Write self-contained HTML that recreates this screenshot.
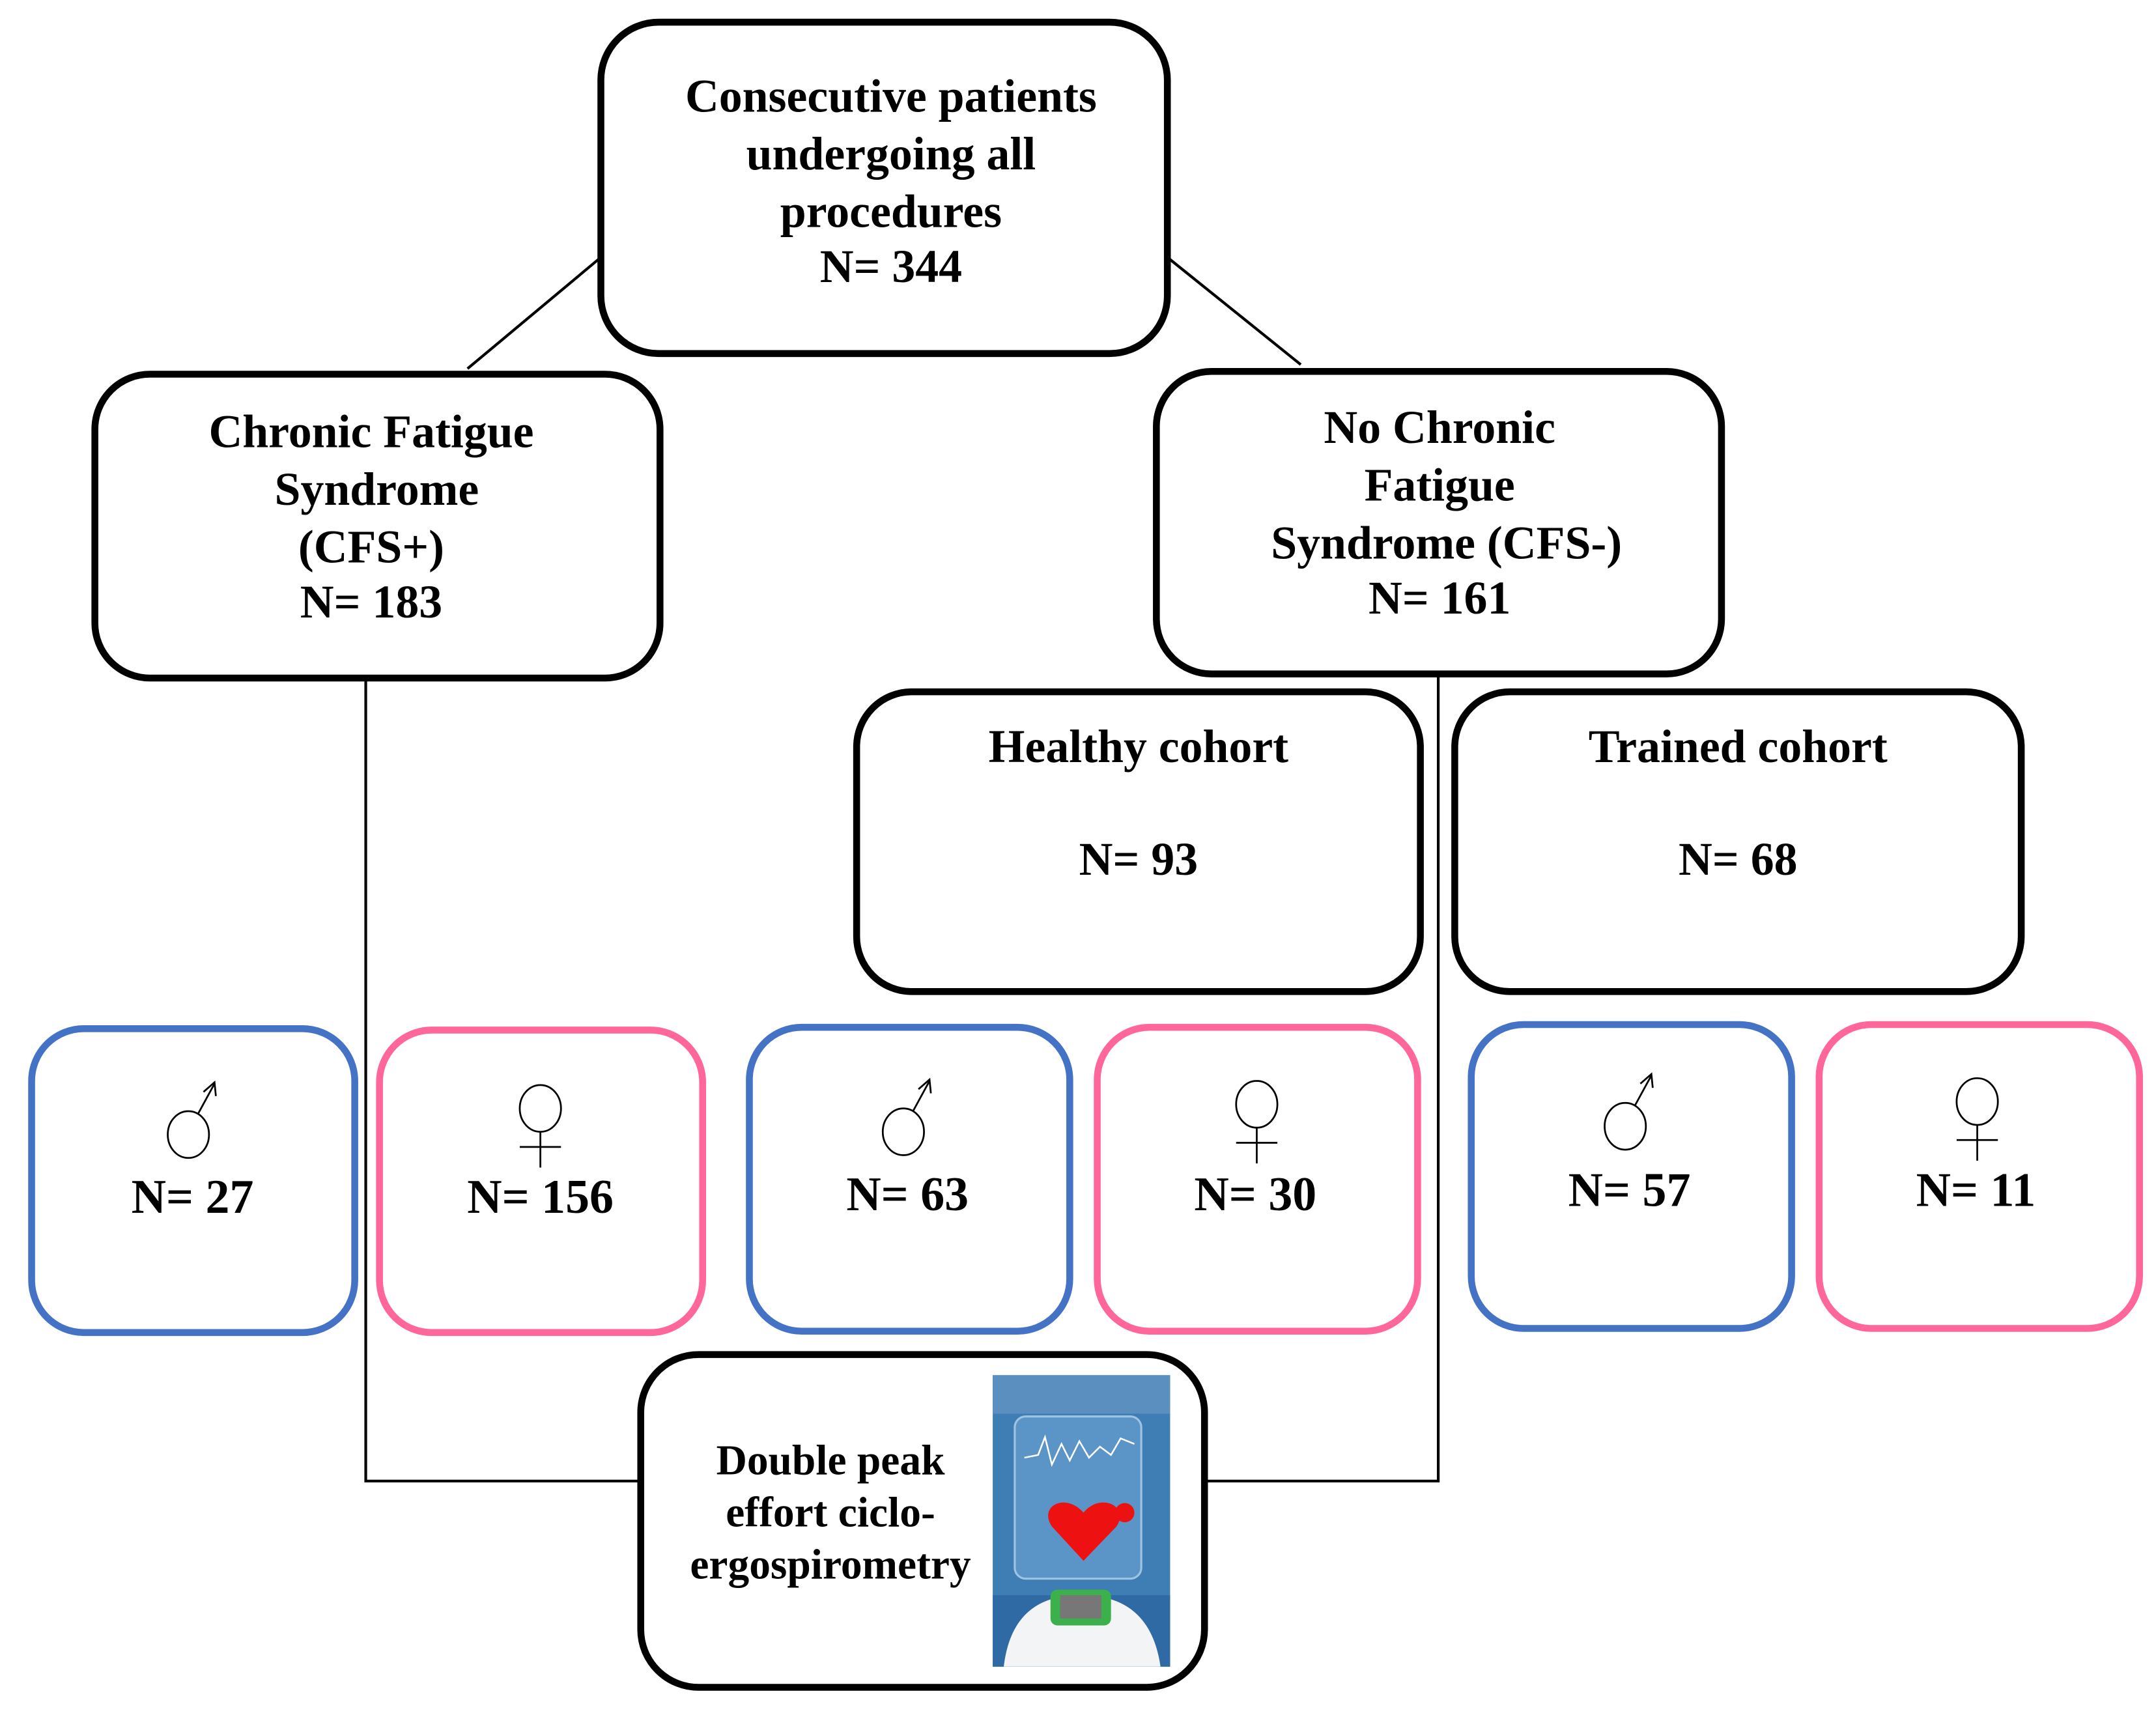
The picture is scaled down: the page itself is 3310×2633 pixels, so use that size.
<!DOCTYPE html>
<html><head><style>html,body{margin:0;padding:0;background:#fff}svg{display:block}</style></head>
<body>
<svg width="3310" height="2633" viewBox="0 0 1568 1247" xmlns="http://www.w3.org/2000/svg">
<g stroke="#000" stroke-width="2" fill="none">
<line x1="437" y1="187" x2="340" y2="268"/>
<line x1="849" y1="187" x2="946" y2="265"/>
<polyline points="266,493 266,1077 466,1077"/>
<polyline points="1046,490 1046,1077 876,1077"/>
</g>
<g stroke="#000" stroke-width="5" fill="#fff">
<rect x="437" y="16" width="412" height="241" rx="42"/>
<rect x="69" y="272" width="411" height="221" rx="40"/>
<rect x="841" y="270" width="411" height="220" rx="40"/>
<rect x="623" y="503" width="410" height="218" rx="40"/>
<rect x="1058" y="503" width="412" height="218" rx="40"/>
<rect x="466" y="985" width="410" height="242" rx="42"/>
</g>
<g stroke-width="5" fill="#fff">
<rect x="23" y="748" width="235" height="221" rx="38" stroke="#4472C4"/>
<rect x="276" y="749" width="235" height="220" rx="38" stroke="#FF6699"/>
<rect x="545" y="747" width="233" height="221" rx="38" stroke="#4472C4"/>
<rect x="798" y="747" width="233" height="221" rx="38" stroke="#FF6699"/>
<rect x="1070" y="745" width="233" height="221" rx="38" stroke="#4472C4"/>
<rect x="1323" y="745" width="233" height="221" rx="38" stroke="#FF6699"/>
</g>
<g font-family="Liberation Serif, serif" font-weight="bold" font-size="34" text-anchor="middle" fill="#000">
<text x="648" y="81">Consecutive patients</text>
<text x="648" y="123">undergoing all</text>
<text x="648" y="165">procedures</text>
<text x="648" y="205">N= 344</text>
<text x="270" y="325">Chronic Fatigue</text>
<text x="274" y="367">Syndrome</text>
<text x="270" y="409">(CFS+)</text>
<text x="270" y="449">N= 183</text>
<text x="1047" y="322">No Chronic</text>
<text x="1047" y="364">Fatigue</text>
<text x="1052" y="406">Syndrome (CFS-)</text>
<text x="1047" y="446">N= 161</text>
<text x="828" y="554">Healthy cohort</text>
<text x="828" y="636">N= 93</text>
<text x="1264" y="554">Trained cohort</text>
<text x="1264" y="636">N= 68</text>
<g font-size="35">
<text x="140" y="882">N= 27</text>
<text x="393" y="882">N= 156</text>
<text x="660" y="880">N= 63</text>
<text x="913" y="880">N= 30</text>
<text x="1185" y="877">N= 57</text>
<text x="1437" y="877">N= 11</text>
</g>
<text x="604" y="1072" font-size="31">Double peak</text>
<text x="604" y="1110" font-size="31">effort ciclo-</text>
<text x="604" y="1148" font-size="31">ergospirometry</text>
</g>
<g stroke="#000" stroke-width="1.3" fill="none">
<ellipse cx="137" cy="825" rx="15" ry="17"/><line x1="144" y1="810" x2="156" y2="788"/><polyline points="148,794 156,787 157,797"/>
<ellipse cx="657" cy="823" rx="15" ry="17"/><line x1="664" y1="808" x2="676" y2="786"/><polyline points="668,792 676,785 677,795"/>
<ellipse cx="1182" cy="819" rx="15" ry="17"/><line x1="1189" y1="804" x2="1201" y2="782"/><polyline points="1193,788 1201,781 1202,791"/>
<ellipse cx="393" cy="806" rx="15" ry="17"/><line x1="393" y1="823" x2="393" y2="849"/><line x1="378" y1="834" x2="408" y2="834"/>
<ellipse cx="914" cy="803" rx="15" ry="17"/><line x1="914" y1="820" x2="914" y2="846"/><line x1="899" y1="831" x2="929" y2="831"/>
<ellipse cx="1438" cy="801" rx="15" ry="17"/><line x1="1438" y1="818" x2="1438" y2="844"/><line x1="1423" y1="829" x2="1453" y2="829"/>
</g>
<g>
<rect x="722" y="1000" width="129" height="212" fill="#3f7db5"/>
<rect x="722" y="1000" width="129" height="28" fill="#5a8fc0"/>
<rect x="738" y="1030" width="92" height="118" rx="8" fill="#5b94c6" stroke="#9fc3e3" stroke-width="1.5"/>
<polyline points="745,1060 755,1058 760,1045 765,1065 772,1050 778,1062 785,1048 792,1060 800,1052 808,1058 815,1046 825,1050" stroke="#fff" stroke-width="1.2" fill="none"/>
<path d="M788,1135 L765,1110 C755,1095 775,1085 788,1100 C800,1085 822,1095 812,1110 Z" fill="#ee1111"/>
<circle cx="818" cy="1100" r="7" fill="#ee1111"/>
<rect x="722" y="1160" width="129" height="52" fill="#2f6aa5"/>
<path d="M730,1212 C735,1170 760,1160 786,1160 C812,1160 838,1170 844,1212 Z" fill="#f2f4f6"/>
<rect x="764" y="1156" width="44" height="26" rx="5" fill="#3cb04a"/>
<rect x="771" y="1160" width="30" height="17" fill="#777"/>
</g>
</svg>
</body></html>
